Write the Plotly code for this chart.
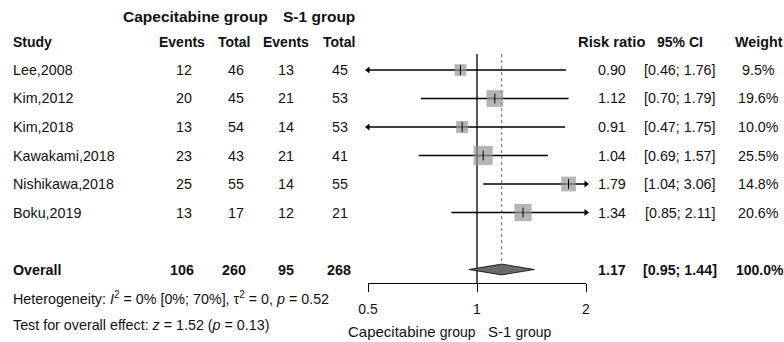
import numpy as np
import plotly.graph_objects as go

# ---------------- data ----------------
studies = ["Lee,2008", "Kim,2012", "Kim,2018", "Kawakami,2018", "Nishikawa,2018", "Boku,2019"]
cap_events = [12, 20, 13, 23, 25, 13]
cap_total = [46, 45, 54, 43, 55, 17]
s1_events = [13, 21, 14, 21, 14, 12]
s1_total = [45, 53, 53, 41, 55, 21]
rr = [0.90, 1.12, 0.91, 1.04, 1.79, 1.34]
ci_low = [0.46, 0.70, 0.47, 0.69, 1.04, 0.85]
ci_high = [1.76, 1.79, 1.75, 1.57, 3.06, 2.11]
weights = [9.5, 19.6, 10.0, 25.5, 14.8, 20.6]

overall_label = "Overall"
overall_cap_events, overall_cap_total = 106, 260
overall_s1_events, overall_s1_total = 95, 268
overall_rr, overall_low, overall_high = 1.17, 0.95, 1.44
overall_weight = 100.0

heterogeneity_text = ("Heterogeneity: <i>I</i><sup>2</sup> = 0% [0%; 70%], "
                      "τ<sup>2</sup> = 0, <i>p</i> = 0.52")
overall_test_text = "Test for overall effect: <i>z</i> = 1.52 (<i>p</i> = 0.13)"

tick_vals = [0.5, 1, 2]
tick_text = ["0.5", "1", "2"]
x_min, x_max = 0.5, 2.0

# ---------------- layout helpers ----------------
W, H = 784, 342
FONT = "Liberation Sans, Arial, sans-serif"
TXT = "#111111"
BODY = 14.3
row0_px, row_step = 70.0, 28.5
plot_top_px, axis_px = 54.0, 283.0


def px2row(py):
    return (py - row0_px) / row_step


def row2paper(r):
    return 1 - (row0_px + r * row_step) / H


fig = go.Figure()

rows = list(range(len(studies)))
overall_row = len(studies) + 1

# CI lines (clipped to axis range)
lx, ly = [], []
left_arrows, right_arrows = [], []
for r, lo, hi in zip(rows, ci_low, ci_high):
    lx += [max(lo, x_min), min(hi, x_max), None]
    ly += [r, r, None]
    if lo < x_min:
        left_arrows.append(r)
    if hi > x_max:
        right_arrows.append(r)

# reference line at 1
fig.add_trace(go.Scatter(x=[1, 1], y=[px2row(plot_top_px), px2row(axis_px)], mode="lines",
                         line=dict(color="black", width=1.3), hoverinfo="skip", cliponaxis=False))
# dotted line at overall estimate
fig.add_trace(go.Scatter(x=[overall_rr, overall_rr], y=[px2row(plot_top_px), overall_row - 0.2],
                         mode="lines", line=dict(color="#666666", width=1, dash="dot"),
                         hoverinfo="skip", cliponaxis=False))

fig.add_trace(go.Scatter(x=lx, y=ly, mode="lines", line=dict(color="black", width=1.3),
                         hoverinfo="skip", cliponaxis=False))
fig.add_trace(go.Scatter(x=[x_min] * len(left_arrows), y=left_arrows, mode="markers",
                         marker=dict(symbol="triangle-left", size=6, color="black"),
                         hoverinfo="skip", cliponaxis=False))
fig.add_trace(go.Scatter(x=[x_max] * len(right_arrows), y=right_arrows, mode="markers",
                         marker=dict(symbol="triangle-right", size=6, color="black"),
                         hoverinfo="skip", cliponaxis=False))

# squares
fig.add_trace(go.Scatter(x=rr, y=rows, mode="markers",
                         marker=dict(symbol="square", size=[3.8 * np.sqrt(w) for w in weights],
                                     color="#969696", line=dict(width=0)),
                         hoverinfo="skip", cliponaxis=False))
fig.add_trace(go.Scatter(x=rr, y=rows, mode="markers",
                         marker=dict(symbol="line-ns", size=7, line=dict(color="black", width=1)),
                         hoverinfo="skip", cliponaxis=False))

# diamond
dh = 0.19
fig.add_trace(go.Scatter(x=[overall_low, overall_rr, overall_high, overall_rr, overall_low],
                         y=[overall_row, overall_row - dh, overall_row, overall_row + dh, overall_row],
                         mode="lines", fill="toself", fillcolor="#6a6a6a",
                         line=dict(color="black", width=0.8), hoverinfo="skip", cliponaxis=False))

# ---------------- text ----------------
ann = []


def add(text, xpx, row, anchor="center", bold=False, size=BODY):
    t = f"<b>{text}</b>" if bold else text
    ann.append(dict(text=t, x=xpx / W, xref="paper", y=row2paper(row), yref="paper",
                    xanchor=anchor, yanchor="middle", showarrow=False, borderpad=0,
                    font=dict(family=FONT, size=size, color=TXT)))


hdr1 = px2row(17)
hdr2 = px2row(42)
add("Capecitabine group", 195, hdr1, bold=True, size=15.5)
add("S-1 group", 319, hdr1, bold=True, size=15.5)
add("Study", 12, hdr2, "left", bold=True, size=14)
add("Events", 182, hdr2, bold=True, size=14)
add("Total", 234, hdr2, bold=True, size=14)
add("Events", 286, hdr2, bold=True, size=14)
add("Total", 339, hdr2, bold=True, size=14)
add("Risk ratio", 646, hdr2, "right", bold=True, size=14.8)
add("95% CI", 680, hdr2, bold=True, size=14)
add("Weight", 759, hdr2, bold=True, size=14.3)

for r in rows:
    add(studies[r], 12, r, "left")
    add(str(cap_events[r]), 184, r)
    add(str(cap_total[r]), 236, r)
    add(str(s1_events[r]), 286, r)
    add(str(s1_total[r]), 340, r)
    add(f"{rr[r]:.2f}", 627, r, "right")
    add(f"[{ci_low[r]:.2f}; {ci_high[r]:.2f}]", 680, r)
    add(f"{weights[r]:.1f}%", 758, r)

add(overall_label, 12, overall_row, "left", bold=True)
add(str(overall_cap_events), 182, overall_row, bold=True)
add(str(overall_cap_total), 234, overall_row, bold=True)
add(str(overall_s1_events), 286, overall_row, bold=True)
add(str(overall_s1_total), 339, overall_row, bold=True)
add(f"{overall_rr:.2f}", 627, overall_row, "right", bold=True)
add(f"[{overall_low:.2f}; {overall_high:.2f}]", 680, overall_row, bold=True)
add(f"{overall_weight:.1f}%", 760, overall_row, bold=True, size=14)

add(heterogeneity_text, 12, px2row(298), "left")
add(overall_test_text, 12, px2row(325), "left")

add("Capecitabine <span style='font-size:14px'>group</span>", 412, px2row(331), size=15)
add("S-1 <span style='font-size:14px'>group</span>", 520, px2row(331), size=15)

fig.update_layout(
    width=W, height=H, margin=dict(l=0, r=0, t=0, b=0, autoexpand=False),
    paper_bgcolor="white", plot_bgcolor="white", showlegend=False,
    annotations=ann,
    xaxis=dict(type="log", domain=[368 / W, 586 / W],
               range=[np.log10(x_min), np.log10(x_max)],
               tickvals=tick_vals, ticktext=tick_text, ticks="outside", ticklen=8,
               tickwidth=1.3, tickcolor="black", showline=True, linecolor="black", linewidth=1.3,
               showgrid=False, zeroline=False, ticklabelstandoff=5,
               tickfont=dict(family=FONT, size=14, color=TXT)),
    yaxis=dict(domain=[1 - axis_px / H, 1 - plot_top_px / H],
               range=[px2row(axis_px), px2row(plot_top_px)],
               showgrid=False, zeroline=False, showticklabels=False, showline=False, ticks=""),
)

fig.write_html("out.html", config={"displayModeBar": False},
               post_script="document.body.style.margin='0';")
